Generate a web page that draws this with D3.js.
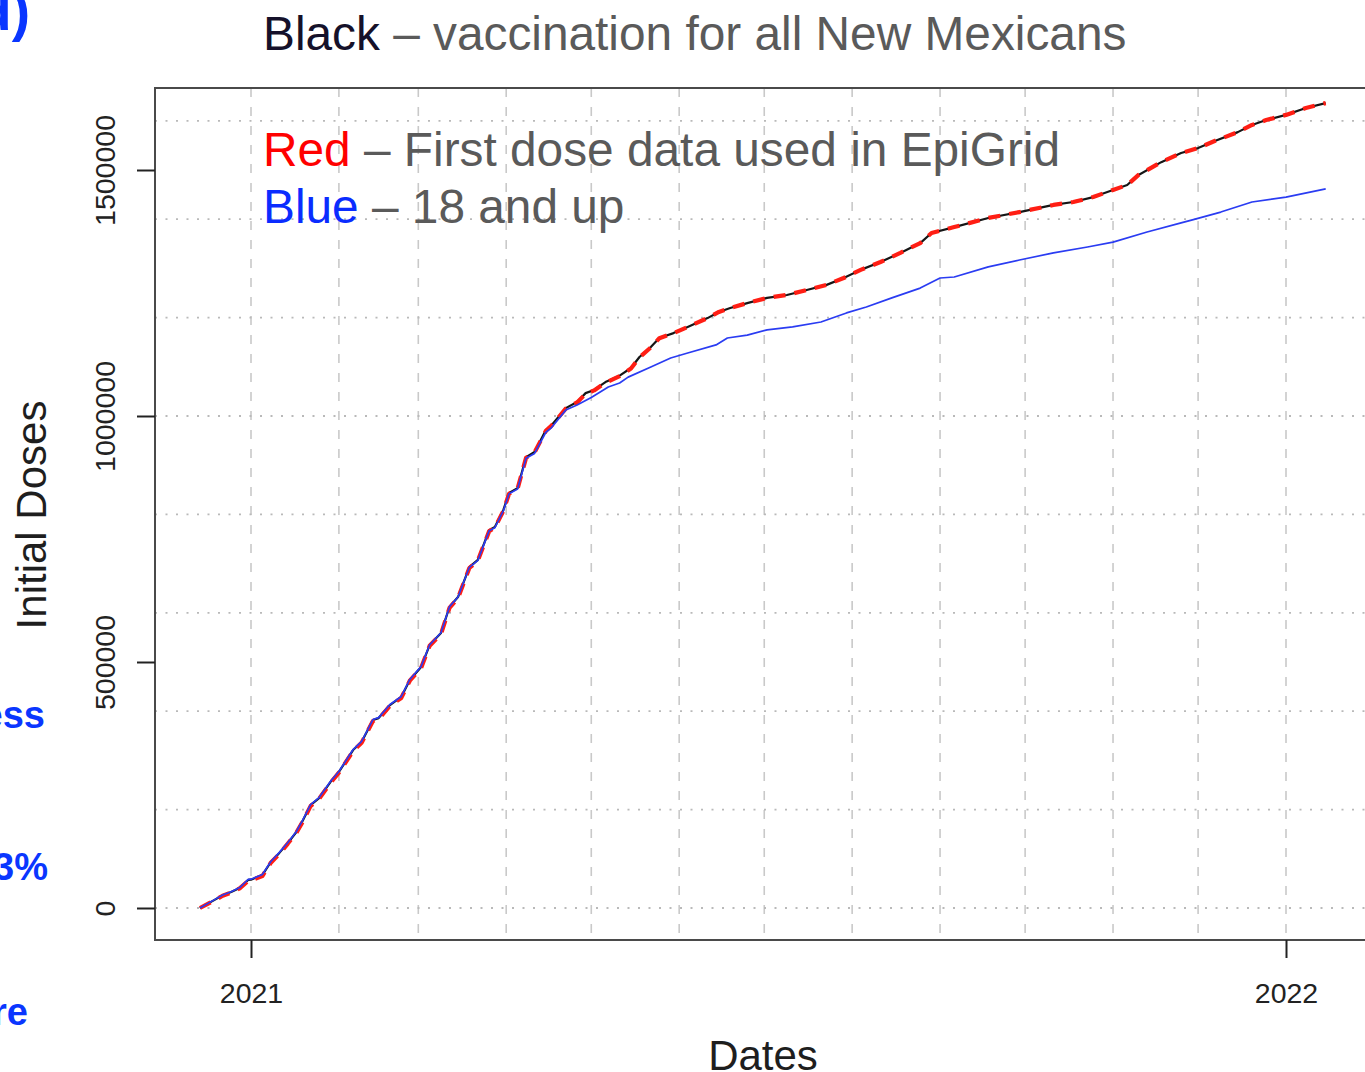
<!DOCTYPE html>
<html>
<head>
<meta charset="utf-8">
<script src="https://cdn.jsdelivr.net/npm/d3@7"></script>
<style>
  html, body { margin: 0; padding: 0; background: #ffffff; }
  svg { display: block; font-family: "Liberation Sans", Arial, Helvetica, sans-serif; }
</style>
</head>
<body>
<svg id="chart" width="1365" height="1072"></svg>
<script>
// Cumulative initial (first) vaccine doses, New Mexico, Dec 2020 – Jan 2022

// Black: vaccination for all New Mexicans
const allDates = [
  "2020-12-14","2020-12-19","2020-12-22","2020-12-25","2020-12-28","2020-12-31",
  "2021-01-01","2021-01-05","2021-01-08","2021-01-11","2021-01-14","2021-01-17",
  "2021-01-19","2021-01-22","2021-01-25","2021-01-29","2021-02-01","2021-02-06",
  "2021-02-09","2021-02-13","2021-02-15","2021-02-19","2021-02-23","2021-02-26",
  "2021-03-02","2021-03-05","2021-03-09","2021-03-12","2021-03-15","2021-03-19",
  "2021-03-22","2021-03-26","2021-03-28","2021-03-31","2021-04-02","2021-04-05",
  "2021-04-08","2021-04-11","2021-04-15","2021-04-17","2021-04-22","2021-04-26",
  "2021-04-29","2021-05-02","2021-05-06","2021-05-11","2021-05-15","2021-05-18",
  "2021-05-22","2021-05-25","2021-05-30","2021-06-04","2021-06-11","2021-06-15",
  "2021-06-19","2021-06-25","2021-07-02","2021-07-09","2021-07-16","2021-07-23",
  "2021-07-29","2021-08-04","2021-08-11","2021-08-18","2021-08-25","2021-08-29",
  "2021-09-06","2021-09-18","2021-09-29","2021-10-11","2021-10-18","2021-10-25",
  "2021-11-01","2021-11-06","2021-11-10","2021-11-18","2021-11-25","2021-12-01",
  "2021-12-06","2021-12-15","2021-12-20","2021-12-25","2022-01-01","2022-01-08",
  "2022-01-15"
];
const allDoses = [
  0, 16000, 26000, 32500, 40500, 57000,
  57500, 67000, 93500, 112000, 132000, 154500,
  175000, 209000, 223500, 256000, 276500, 321000,
  337500, 382000, 386000, 412500, 429000, 463500,
  490000, 534500, 559000, 612000, 632000, 693000,
  707500, 768000, 774500, 809000, 843500, 853500,
  916500, 927000, 971500, 981500, 1016000, 1028500,
  1046500, 1053000, 1069000, 1082000, 1097500, 1120000,
  1140000, 1158500, 1168500, 1181000, 1199000, 1211500,
  1219500, 1229500, 1240000, 1246000, 1256000, 1266500,
  1280500, 1297000, 1313000, 1331500, 1351500, 1372000,
  1384000, 1402500, 1414500, 1429000, 1435000, 1445000,
  1459500, 1469500, 1490000, 1516000, 1534500, 1544500,
  1557000, 1577000, 1591500, 1601500, 1612000, 1626000,
  1636000
];

// Red: first dose data used in EpiGrid
const epiGridDates = allDates;
const epiGridDoses = [
  0, 15000, 25000, 31500, 40000, 55000,
  56000, 65000, 92000, 110000, 131000, 153000,
  173000, 207000, 222000, 254000, 275000, 319000,
  336000, 380000, 384000, 411000, 427000, 462000,
  488000, 533000, 557000, 610000, 630000, 691000,
  706000, 766000, 773000, 807000, 842000, 852000,
  915000, 926000, 970000, 980500, 1015000, 1027500,
  1045000, 1052000, 1067500, 1081000, 1096500, 1119000,
  1139500, 1158000, 1168500, 1181000, 1199000, 1211500,
  1219500, 1229500, 1240000, 1246000, 1256000, 1266500,
  1280500, 1297000, 1313000, 1331500, 1351500, 1372000,
  1384000, 1402500, 1414500, 1429000, 1435000, 1445000,
  1459500, 1469500, 1490000, 1516000, 1534500, 1544500,
  1557000, 1577000, 1591500, 1601500, 1612000, 1626000,
  1636000
];

// Blue: 18 and up
const adultDates = [
  "2020-12-14","2020-12-19","2020-12-22","2020-12-25","2020-12-28","2020-12-31",
  "2021-01-01","2021-01-05","2021-01-08","2021-01-11","2021-01-14","2021-01-17",
  "2021-01-19","2021-01-22","2021-01-25","2021-01-29","2021-02-01","2021-02-06",
  "2021-02-09","2021-02-13","2021-02-15","2021-02-19","2021-02-23","2021-02-26",
  "2021-03-02","2021-03-05","2021-03-09","2021-03-12","2021-03-15","2021-03-19",
  "2021-03-22","2021-03-26","2021-03-28","2021-03-31","2021-04-02","2021-04-05",
  "2021-04-08","2021-04-11","2021-04-15","2021-04-17","2021-04-22","2021-04-26",
  "2021-05-01","2021-05-07","2021-05-11","2021-05-14","2021-05-22","2021-05-29",
  "2021-06-04","2021-06-14","2021-06-18","2021-06-25","2021-07-02","2021-07-11",
  "2021-07-21","2021-07-30","2021-08-06","2021-08-15","2021-08-25","2021-09-01",
  "2021-09-06","2021-09-18","2021-09-29","2021-10-11","2021-10-23","2021-11-01",
  "2021-11-13","2021-11-25","2021-11-29","2021-12-09","2021-12-20","2022-01-01",
  "2022-01-15"
];
const adultDoses = [
  0, 16500, 26500, 33000, 41500, 58000,
  58500, 68000, 94500, 113000, 133000, 155500,
  176000, 210000, 224500, 257000, 277500, 322000,
  338500, 383000, 387000, 413500, 430000, 464500,
  491000, 535000, 559500, 612500, 632000, 692500,
  706500, 767000, 773000, 807500, 842000, 851500,
  914000, 924000, 967000, 976500, 1012000, 1022500,
  1037500, 1059000, 1067000, 1079000, 1099500, 1118000,
  1128000, 1144500, 1158500, 1164500, 1175000, 1181000,
  1191000, 1209500, 1221500, 1240000, 1260000, 1280500,
  1282500, 1303000, 1317000, 1331500, 1343500, 1353500,
  1374000, 1392500, 1398500, 1414500, 1435000, 1445000,
  1461500
];

// Axis ticks
const yTickValues = [0, 500000, 1000000, 1500000];
const xTickYears = ["2021-01-01", "2022-01-01"];
const yGridValues = [0, 200000, 400000, 600000, 800000, 1000000, 1200000, 1400000, 1600000];

const parse = d3.utcParse("%Y-%m-%d");
const toSeries = (dates, vals) => dates.map((d, i) => ({ date: parse(d), value: vals[i] }));

const svg = d3.select("#chart");
const W = 1365, H = 1072;
svg.append("rect").attr("width", W).attr("height", H).attr("fill", "#ffffff");

// Plot region (right edge falls just beyond the canvas)
const box = { left: 155, right: 1372, top: 88, bottom: 940 };

const x = d3.scaleUtc()
  .domain([parse("2021-01-01"), parse("2022-01-01")])
  .range([251, 1286]);
const y = d3.scaleLinear()
  .domain([0, 1500000])
  .range([908, 170]);

svg.append("defs").append("clipPath").attr("id", "plotClip")
  .append("rect")
  .attr("x", box.left).attr("y", box.top)
  .attr("width", box.right - box.left).attr("height", box.bottom - box.top);

// Grid: dashed verticals at month starts, dotted horizontals
const grid = svg.append("g").attr("clip-path", "url(#plotClip)");
const months = d3.utcMonth.range(parse("2021-01-01"), parse("2022-01-02"));
grid.selectAll("line.vg").data(months).join("line")
  .attr("class", "vg")
  .attr("x1", d => x(d)).attr("x2", d => x(d))
  .attr("y1", box.top).attr("y2", box.bottom)
  .attr("stroke", "#c9c9c9").attr("stroke-width", 1.6)
  .attr("stroke-dasharray", "9,10");
grid.selectAll("line.hg").data(yGridValues).join("line")
  .attr("class", "hg")
  .attr("x1", box.left).attr("x2", box.right)
  .attr("y1", d => y(d)).attr("y2", d => y(d))
  .attr("stroke", "#b9b9b9").attr("stroke-width", 1.8)
  .attr("stroke-dasharray", "2,8.5");

// Series lines
const line = d3.line().x(d => x(d.date)).y(d => y(d.value));
const lines = svg.append("g").attr("clip-path", "url(#plotClip)")
  .attr("fill", "none").attr("stroke-linejoin", "round");

lines.append("path")
  .datum(toSeries(allDates, allDoses))
  .attr("d", line)
  .attr("stroke", "#161616").attr("stroke-width", 2.2);

lines.append("path")
  .datum(toSeries(epiGridDates, epiGridDoses))
  .attr("d", line)
  .attr("stroke", "#ff1e14").attr("stroke-width", 4.2)
  .attr("stroke-dasharray", "12,9");

lines.append("path")
  .datum(toSeries(adultDates, adultDoses))
  .attr("d", line)
  .attr("stroke", "#2a3cf2").attr("stroke-width", 1.7);

// Plot frame
svg.append("rect")
  .attr("x", box.left).attr("y", box.top)
  .attr("width", box.right - box.left).attr("height", box.bottom - box.top)
  .attr("fill", "none").attr("stroke", "#4a4a4a").attr("stroke-width", 2);

// X axis
const xAxis = svg.append("g")
  .attr("transform", `translate(0,${box.bottom})`)
  .call(d3.axisBottom(x)
    .tickValues(xTickYears.map(parse))
    .tickFormat(d3.utcFormat("%Y"))
    .tickSize(18)
    .tickPadding(25));
xAxis.select(".domain").remove();
xAxis.selectAll(".tick line").attr("stroke", "#222").attr("stroke-width", 2);
xAxis.selectAll(".tick text")
  .attr("fill", "#222").attr("font-size", 28.5)
  .attr("font-family", "'Liberation Sans', Arial, sans-serif");

// Y axis with labels written along the axis
const yAxis = svg.append("g")
  .attr("transform", `translate(${box.left},0)`)
  .call(d3.axisLeft(y)
    .tickValues(yTickValues)
    .tickFormat(d3.format("d"))
    .tickSize(18));
yAxis.select(".domain").remove();
yAxis.selectAll(".tick line").attr("stroke", "#222").attr("stroke-width", 2);
yAxis.selectAll(".tick text")
  .attr("fill", "#222").attr("font-size", 28.5)
  .attr("font-family", "'Liberation Sans', Arial, sans-serif")
  .attr("x", null).attr("dy", null)
  .attr("text-anchor", "middle")
  .attr("transform", "translate(-40,0) rotate(-90)");

// Axis titles
svg.append("text")
  .attr("x", 763).attr("y", 1070)
  .attr("text-anchor", "middle")
  .attr("font-size", 42).attr("fill", "#1e1e1e")
  .text("Dates");
svg.append("text")
  .attr("transform", "translate(46,515) rotate(-90)")
  .attr("text-anchor", "middle")
  .attr("font-size", 42).attr("fill", "#1e1e1e")
  .text("Initial Doses");

// Title
const title = svg.append("text")
  .attr("x", 263).attr("y", 50)
  .attr("font-size", 47.8).attr("fill", "#5a5a5a");
title.append("tspan").attr("fill", "#15112a").text("Black");
title.append("tspan").text(" – vaccination for all New Mexicans");

// In-plot key
const key1 = svg.append("text")
  .attr("x", 263).attr("y", 166)
  .attr("font-size", 47.8).attr("fill", "#5a5a5a");
key1.append("tspan").attr("fill", "#ff0000").text("Red");
key1.append("tspan").text(" – First dose data used in EpiGrid");

const key2 = svg.append("text")
  .attr("x", 263).attr("y", 223)
  .attr("font-size", 47.8).attr("fill", "#5a5a5a");
key2.append("tspan").attr("fill", "#0a2cff").text("Blue");
key2.append("tspan").text(" – 18 and up");

// Side notes running off the left edge
const side = svg.append("g")
  .attr("fill", "#0a36ff").attr("font-weight", "bold")
  .attr("font-size", 38).attr("text-anchor", "end");
side.append("text").attr("x", 30).attr("y", 30).attr("font-size", 55).text("(d)");
side.append("text").attr("x", 45).attr("y", 728).text("less");
side.append("text").attr("x", 48).attr("y", 880).text("63%");
side.append("text").attr("x", 28).attr("y", 1025).text("more");
</script>
</body>
</html>
